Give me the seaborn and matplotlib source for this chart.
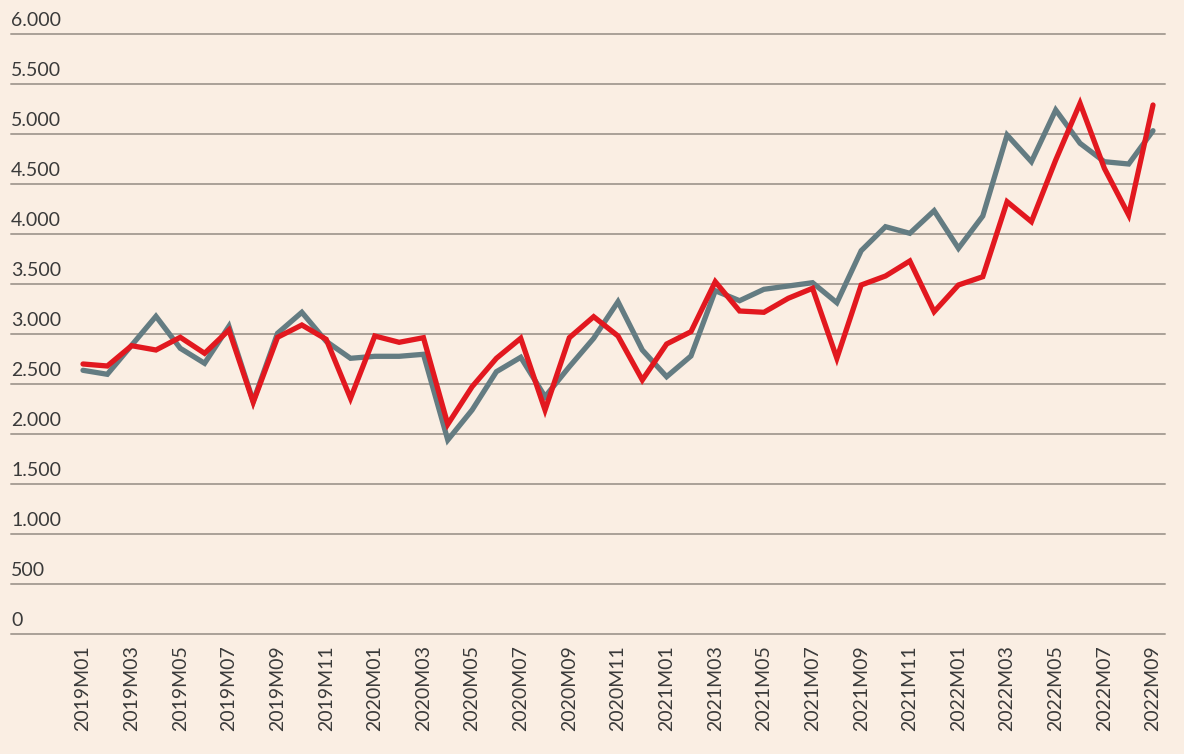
import matplotlib
matplotlib.use("Agg")
import matplotlib.pyplot as plt
import matplotlib.transforms as mtransforms
import seaborn as sns
import pandas as pd

months = [f"{y}M{m:02d}" for y in (2019, 2020, 2021, 2022) for m in range(1, 13)][:45]

grey_values = [2640, 2600, 2890, 3180, 2860, 2710, 3080, 2330, 3010, 3220,
               2930, 2760, 2780, 2780, 2800, 1943, 2243, 2626, 2770, 2376,
               2676, 2960, 3326, 2843, 2576, 2783, 3436, 3336, 3450, 3483,
               3516, 3316, 3836, 4076, 4010, 4236, 3860, 4183, 4993, 4726,
               5243, 4910, 4726, 4703, 5036]

red_values = [2703, 2683, 2886, 2843, 2970, 2810, 3043, 2320, 2970, 3093,
              2950, 2360, 2983, 2920, 2966, 2100, 2476, 2760, 2960, 2243,
              2966, 3176, 2983, 2543, 2903, 3026, 3526, 3233, 3220, 3360,
              3460, 2760, 3493, 3583, 3733, 3226, 3493, 3576, 4326, 4126,
              4743, 5310, 4660, 4193, 5293]

y_ticks = [0, 500, 1000, 1500, 2000, 2500, 3000, 3500, 4000, 4500, 5000, 5500, 6000]
y_tick_labels = ["0", "500", "1.000", "1.500", "2.000", "2.500", "3.000",
                 "3.500", "4.000", "4.500", "5.000", "5.500", "6.000"]

series_names = ["grey", "red"]
palette = {"grey": "#647C82", "red": "#E2181F"}

df = pd.concat([
    pd.DataFrame({"idx": range(len(months)), "value": grey_values, "series": "grey"}),
    pd.DataFrame({"idx": range(len(months)), "value": red_values, "series": "red"}),
], ignore_index=True)

bg = "#FAEEE3"
sns.set_theme(style="white")
plt.rcParams["font.family"] = ["Lato", "DejaVu Sans"]

fig = plt.figure(figsize=(11.84, 7.54), dpi=100, facecolor=bg)
ax = fig.add_axes([11 / 1184, 1 - 634.3 / 754, (1165 - 11) / 1184, 600 / 754])
ax.set_facecolor(bg)

for yv in y_ticks:
    ax.axhline(yv, color="#A9A097", lw=1.4, zorder=1)

sns.lineplot(data=df, x="idx", y="value", hue="series", hue_order=series_names,
             palette=palette, linewidth=3.8, legend=False, ax=ax, zorder=3)
for line in ax.get_lines():
    line.set_clip_on(False)
    line.set_solid_joinstyle("miter")

ax.set_xlim(-72 / 24.32, 44 + 12 / 24.32)
ax.set_ylim(0, 6000)

ax.set_xticks(range(0, len(months), 2))
ax.set_xticklabels(months[::2], rotation=90, fontsize=14, color="#3A3A3A")
ax.tick_params(axis="x", length=0, pad=8)
ax.set_yticks([])
ax.set_xlabel("")
ax.set_ylabel("")
for s in ax.spines.values():
    s.set_visible(False)

trans = mtransforms.blended_transform_factory(ax.transAxes, ax.transData)
offset = mtransforms.ScaledTranslation(0, 5 / 100, fig.dpi_scale_trans)
for yv, lab in zip(y_ticks, y_tick_labels):
    ax.text(0, yv, lab, transform=trans + offset, ha="left", va="bottom",
            fontsize=14, color="#3A3A3A")

fig.savefig("out.png", dpi=100, facecolor=bg)
